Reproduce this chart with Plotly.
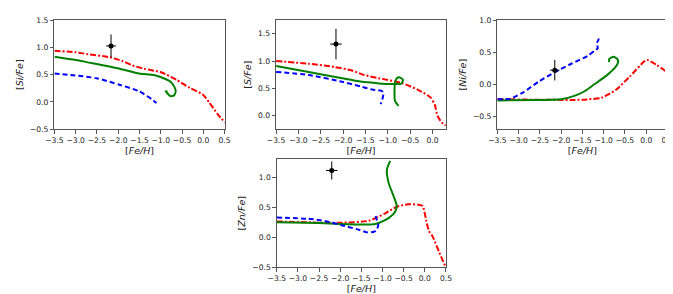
import plotly.graph_objects as go

# ---------------- data ----------------
# Panel 1: [Si/Fe]
si_red_x = [-3.5, -3.0, -2.74, -2.2, -1.9, -1.67, -1.39, -1.21, -0.98, -0.626, -0.318, -0.013, 0.141, 0.332, 0.51]
si_red_y = [0.937, 0.91, 0.878, 0.818, 0.75, 0.67, 0.61, 0.58, 0.54, 0.405, 0.257, 0.138, -0.009, -0.217, -0.38]
si_green_x = [-3.5, -3.0, -2.74, -1.97, -1.51, -1.162, -0.932, -0.778, -0.686, -0.649, -0.686, -0.778, -0.856, -0.886, -0.84]
si_green_y = [0.83, 0.77, 0.73, 0.61, 0.52, 0.493, 0.434, 0.375, 0.286, 0.197, 0.121, 0.108, 0.169, 0.197, 0.19]
si_blue_x = [-3.5, -3.05, -2.51, -1.97, -1.51, -1.21, -1.1]
si_blue_y = [0.52, 0.49, 0.435, 0.316, 0.197, 0.05, -0.02]
si_obs = dict(x=-2.17, y=1.026, ex=0.115, ey=0.21)

# Panel 2: [S/Fe]
s_red_x = [-3.5, -2.77, -2.19, -1.82, -1.53, -1.2, -0.7, -0.335, -0.04, 0.05, 0.11, 0.2, 0.29]
s_red_y = [1.0, 0.95, 0.89, 0.83, 0.745, 0.685, 0.60, 0.477, 0.33, 0.2, 0.0, -0.12, -0.18]
s_green_x = [-3.5, -2.77, -2.05, -1.61, -1.31, -1.2, -0.91, -0.70, -0.66, -0.73, -0.80, -0.84, -0.85, -0.84, -0.76]
s_green_y = [0.91, 0.80, 0.69, 0.625, 0.60, 0.59, 0.58, 0.584, 0.655, 0.70, 0.685, 0.596, 0.446, 0.27, 0.18]
s_blue_x = [-3.5, -2.77, -2.05, -1.61, -1.35, -1.13, -1.1, -1.12, -1.16]
s_blue_y = [0.80, 0.745, 0.625, 0.535, 0.477, 0.45, 0.40, 0.31, 0.21]
s_obs = dict(x=-2.16, y=1.31, ex=0.13, ey=0.28)

# Panel 3: [Ni/Fe]
ni_red_x = [-3.5, -2.5, -1.5, -1.05, -0.9, -0.7, -0.39, -0.04, 0.03, 0.25, 0.49]
ni_red_y = [-0.23, -0.24, -0.24, -0.21, -0.16, -0.08, 0.118, 0.36, 0.38, 0.30, 0.19]
ni_green_x = [-3.5, -2.5, -2.0, -1.69, -1.45, -1.22, -0.92, -0.72, -0.66, -0.68, -0.77, -0.87, -0.87]
ni_green_y = [-0.25, -0.245, -0.234, -0.18, -0.108, 0.0, 0.143, 0.27, 0.344, 0.395, 0.43, 0.395, 0.344]
ni_blue_x = [-3.5, -3.2, -2.91, -2.53, -2.14, -1.76, -1.37, -1.22, -1.14, -1.16, -1.12, -1.15]
ni_blue_y = [-0.234, -0.224, -0.133, 0.042, 0.193, 0.32, 0.445, 0.52, 0.56, 0.64, 0.70, 0.75]
ni_obs = dict(x=-2.15, y=0.22, ex=0.11, ey=0.16)

# Panel 4: [Zn/Fe]
zn_red_x = [-3.5, -2.36, -2.0, -1.32, -0.934, -0.665, -0.395, -0.15, -0.05, 0.0, 0.03, 0.1, 0.18, 0.34, 0.49]
zn_red_y = [0.263, 0.24, 0.24, 0.274, 0.398, 0.505, 0.548, 0.54, 0.52, 0.40, 0.29, 0.1, 0.02, -0.25, -0.49]
zn_green_x = [-3.5, -2.5, -2.0, -1.44, -1.2, -1.09, -0.857, -0.70, -0.665, -0.742, -0.857, -0.896, -0.818]
zn_green_y = [0.247, 0.235, 0.22, 0.21, 0.215, 0.237, 0.318, 0.425, 0.53, 0.69, 0.908, 1.124, 1.27]
zn_blue_x = [-3.5, -2.75, -2.36, -1.97, -1.59, -1.36, -1.2, -1.13, -1.1, -1.14, -1.18]
zn_blue_y = [0.327, 0.306, 0.27, 0.20, 0.13, 0.08, 0.09, 0.13, 0.22, 0.30, 0.38]
zn_obs = dict(x=-2.2, y=1.11, ex=0.135, ey=0.15)

ytitles = ["[<i>Si/Fe</i>]", "[<i>S/Fe</i>]", "[<i>Ni/Fe</i>]", "[<i>Zn/Fe</i>]"]
xtitle = "[<i>Fe/H</i>]"
xranges = [[-3.5, 0.5], [-3.5, 0.3], [-3.5, 0.5], [-3.5, 0.5]]
yranges = [[-0.5, 1.5], [-0.25, 1.75], [-0.7, 1.0], [-0.5, 1.3]]

W, H = 673, 294
boxes = [  # left, right, top, bottom in pixels
    (38.3, 212.3, 8.3, 121.0),
    (265.0, 438.7, 8.3, 121.0),
    (491.3, 665.3, 8.3, 121.0),
    (265.7, 438.7, 151.7, 263.3),
]

panels = [
    (si_red_x, si_red_y, si_green_x, si_green_y, si_blue_x, si_blue_y, si_obs),
    (s_red_x, s_red_y, s_green_x, s_green_y, s_blue_x, s_blue_y, s_obs),
    (ni_red_x, ni_red_y, ni_green_x, ni_green_y, ni_blue_x, ni_blue_y, ni_obs),
    (zn_red_x, zn_red_y, zn_green_x, zn_green_y, zn_blue_x, zn_blue_y, zn_obs),
]

fig = go.Figure()
font = "DejaVu Sans"
for i, (rx, ry, gx, gy, bx, by, obs) in enumerate(panels):
    n = i + 1
    xa = "x" if n == 1 else f"x{n}"
    ya = "y" if n == 1 else f"y{n}"
    fig.add_trace(go.Scatter(x=rx, y=ry, mode="lines", xaxis=xa, yaxis=ya,
                             line=dict(color="#ff0000", width=2, dash="6px,2px,2px,2px", shape="spline", smoothing=0.6),
                             showlegend=False))
    fig.add_trace(go.Scatter(x=gx, y=gy, mode="lines", xaxis=xa, yaxis=ya,
                             line=dict(color="#008000", width=2, shape="spline", smoothing=0.6),
                             showlegend=False))
    fig.add_trace(go.Scatter(x=bx, y=by, mode="lines", xaxis=xa, yaxis=ya,
                             line=dict(color="#0000ff", width=2, dash="5px,3px", shape="spline", smoothing=0.6),
                             showlegend=False))
    fig.add_trace(go.Scatter(x=[obs["x"]], y=[obs["y"]], mode="markers", xaxis=xa, yaxis=ya,
                             marker=dict(color="black", size=5),
                             error_x=dict(type="constant", value=obs["ex"], color="black", thickness=1, width=0),
                             error_y=dict(type="constant", value=obs["ey"], color="black", thickness=1, width=0),
                             showlegend=False))
    l, r, t, b = boxes[i]
    common = dict(showline=True, mirror=True, linecolor="#555", linewidth=1,
                  ticks="outside", ticklen=3.5, tickwidth=0.8, tickcolor="#555",
                  showgrid=False, zeroline=False, tickformat=".1f", dtick=0.5, tick0=0,
                  tickfont=dict(family=font, size=7.6, color="#222"))
    fig.layout[("xaxis" if n == 1 else f"xaxis{n}")] = dict(
        domain=[l / W, r / W], range=xranges[i], anchor=ya,
        title=dict(text=xtitle, font=dict(family=font, size=9.5, color="#222"), standoff=2),
        **common)
    fig.layout[("yaxis" if n == 1 else f"yaxis{n}")] = dict(
        domain=[1 - b / H, 1 - t / H], range=yranges[i], anchor=xa,
        title=dict(text=ytitles[i], font=dict(family=font, size=9.5, color="#222"), standoff=4),
        **common)

fig.update_layout(width=W, height=H, margin=dict(l=0, r=0, t=0, b=0),
                  paper_bgcolor="white", plot_bgcolor="white")
fig.write_html("out.html")
